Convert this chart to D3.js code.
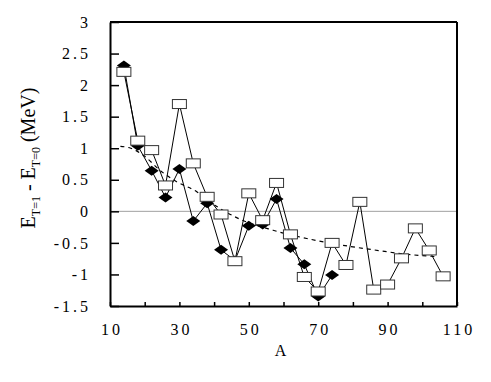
<!DOCTYPE html>
<html><head><meta charset="utf-8">
<script src="https://cdn.jsdelivr.net/npm/d3@7"></script>
<style>body{margin:0;background:#fff}svg{display:block}</style>
</head><body><div id="chart"></div>
<script>
const squareA = [14,18,22,26,30,34,38,42,46,50,54,58,62,66,70,74,78,82,86,90,94,98,102,106];
const squareV = [2.21,1.12,0.97,0.41,1.70,0.76,0.23,-0.05,-0.79,0.285,-0.14,0.45,-0.365,-1.04,-1.27,-0.50,-0.85,0.15,-1.24,-1.16,-0.745,-0.27,-0.62,-1.03];
const diamondA = [14,18,22,26,30,34,38,42,46,50,54,58,62,66,70,74];
const diamondV = [2.31,1.04,0.645,0.22,0.67,-0.155,0.127,-0.61,-0.78,-0.23,-0.21,0.195,-0.58,-0.84,-1.35,-1.01];
const trendA = [13,16,19.6,24.4,29.2,35,38.8,46.5,57,66.7,76.3,85.9,95.5,104.6];
const trendV = [1.03,1.0,0.89,0.65,0.47,0.31,0.15,-0.10,-0.30,-0.43,-0.53,-0.61,-0.68,-0.72];
const xTicks = [10,20,30,40,50,60,70,80,90,100,110];
const xTickLabels = [10,30,50,70,90,110];
const yTicks = [-1.5,-1,-0.5,0,0.5,1,1.5,2,2.5,3];

const W=491,H=382;
const L=110,R=457,T=22,B=306;
const svg=d3.select("#chart").append("svg").attr("width",W).attr("height",H);
const x=d3.scaleLinear().domain([10,110]).range([L,R]);
const y=d3.scaleLinear().domain([-1.5,3]).range([B,T]);
const font="'Liberation Serif','Times New Roman',serif";
const ls=3;

// zero line
svg.append("line").attr("x1",L).attr("x2",R).attr("y1",y(0)).attr("y2",y(0))
  .attr("stroke","#a0a0a0").attr("stroke-width",1);

// axes
const xAxis=svg.append("g").attr("transform",`translate(0,${B})`)
  .call(d3.axisBottom(x).tickValues(xTicks).tickSizeInner(-4).tickSizeOuter(0)
    .tickFormat(d=>xTickLabels.includes(d)?d:""));
xAxis.select(".domain").attr("stroke","#000").attr("stroke-width",2);
xAxis.selectAll(".tick line").attr("stroke","#000").attr("stroke-width",1.5);
xAxis.selectAll(".tick text").attr("y",18).attr("dx",ls/2).attr("font-family",font).attr("font-size",16)
  .attr("letter-spacing",ls+"px").attr("fill","#000");

const yAxis=svg.append("g").attr("transform",`translate(${L},0)`)
  .call(d3.axisLeft(y).tickValues(yTicks).tickSizeInner(-9).tickSizeOuter(0)
    .tickFormat(d=>String(d)));
yAxis.select(".domain").attr("stroke","#000").attr("stroke-width",2);
yAxis.selectAll(".tick line").attr("stroke","#000").attr("stroke-width",1.5);
yAxis.selectAll(".tick text").attr("x",-22+ls).attr("font-family",font).attr("font-size",16)
  .attr("letter-spacing",ls+"px").attr("fill","#000");

// top & right frame
svg.append("line").attr("x1",L).attr("x2",R).attr("y1",T).attr("y2",T).attr("stroke","#000").attr("stroke-width",2);
svg.append("line").attr("x1",R).attr("x2",R).attr("y1",T).attr("y2",B).attr("stroke","#000").attr("stroke-width",2);

// trend dashed
const trend=trendA.map((a,i)=>[a,trendV[i]]);
svg.append("path").datum(trend)
  .attr("d",d3.line().x(d=>x(d[0])).y(d=>y(d[1])).curve(d3.curveMonotoneX))
  .attr("fill","none").attr("stroke","#000").attr("stroke-width",1.2).attr("stroke-dasharray","4,4");

const dia=diamondA.map((a,i)=>[a,diamondV[i]]);
const sq=squareA.map((a,i)=>[a,squareV[i]]);
const ln=d3.line().x(d=>x(d[0])).y(d=>y(d[1]));
svg.append("path").datum(dia).attr("d",ln).attr("fill","none").attr("stroke","#000").attr("stroke-width",1);
svg.append("path").datum(sq).attr("d",ln).attr("fill","none").attr("stroke","#000").attr("stroke-width",1);

svg.append("g").selectAll("path").data(dia).join("path")
  .attr("transform",d=>`translate(${x(d[0])},${y(d[1])})`)
  .attr("d","M-7,0L0,-5L7,0L0,5Z").attr("fill","#000");
svg.append("g").selectAll("rect").data(sq).join("rect")
  .attr("x",d=>x(d[0])-7).attr("y",d=>y(d[1])-4.5).attr("width",14).attr("height",9)
  .attr("fill","#fff").attr("stroke","#333").attr("stroke-width",1);

// axis titles
svg.append("text").attr("x",(L+R)/2-2).attr("y",356).attr("text-anchor","middle")
  .attr("font-family",font).attr("font-size",16).attr("letter-spacing","2px").text("A");

const yl=svg.append("text").attr("transform","translate(35,158) rotate(-90)")
  .attr("text-anchor","middle").attr("font-family",font).attr("font-size",20);
yl.append("tspan").text("E");
yl.append("tspan").attr("font-size",12).attr("dy",5).text("T=1");
yl.append("tspan").attr("dy",-5).text(" - E");
yl.append("tspan").attr("font-size",12).attr("dy",5).text("T=0");
yl.append("tspan").attr("dy",-5).text(" (MeV)");
</script></body></html>
